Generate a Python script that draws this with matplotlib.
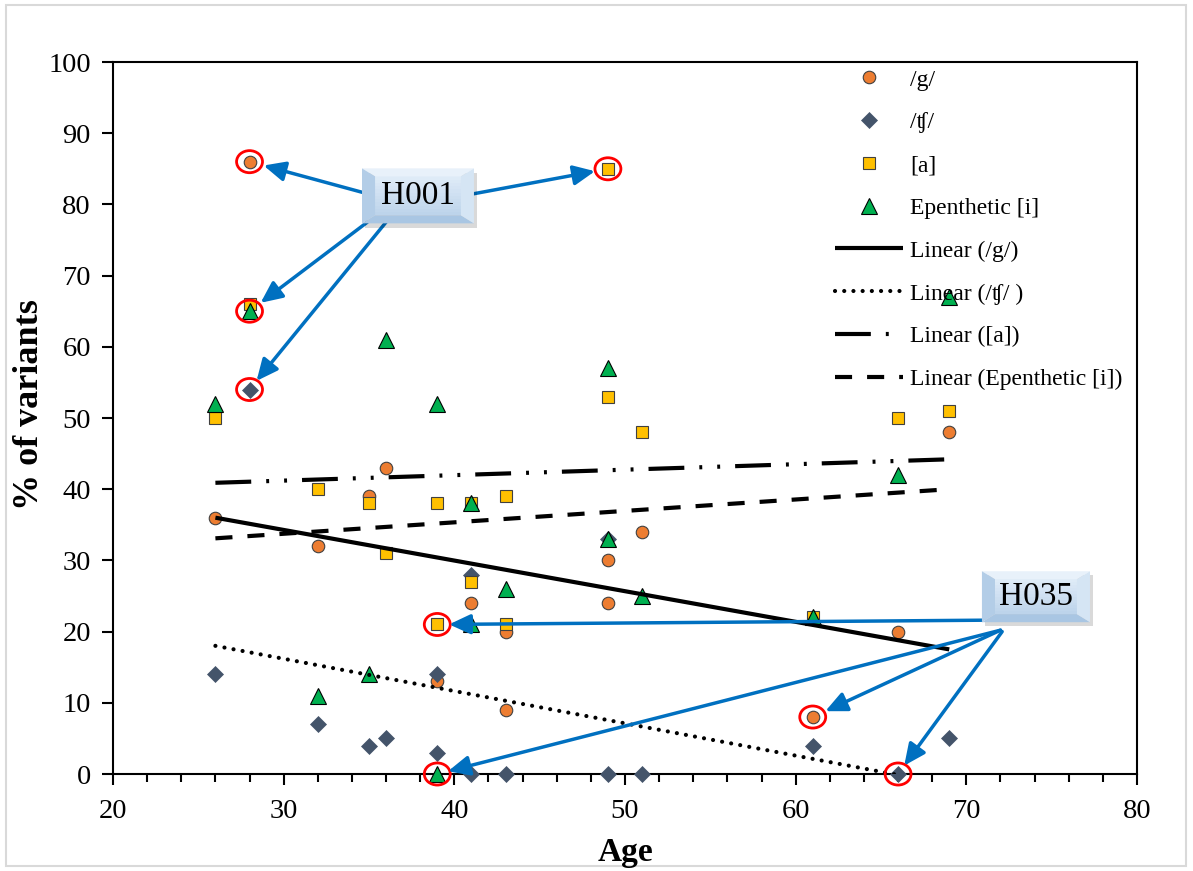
import matplotlib.pyplot as plt
import matplotlib.transforms as mtransforms
import numpy as np
from matplotlib.patches import Ellipse, Polygon, Rectangle, FancyArrowPatch
from matplotlib.ticker import MultipleLocator

plt.rcParams['font.family'] = ['Liberation Serif', 'DejaVu Serif']

# ---- speaker values (% of variants by age) ----
g_age = [26, 28, 32, 35, 36, 39, 41, 43, 43, 49, 49, 51, 61, 66, 69]
g_pct = [36, 86, 32, 39, 43, 13, 24, 20, 9, 30, 24, 34, 8, 20, 48]

tf_age = [26, 28, 32, 35, 36, 39, 39, 41, 41, 43, 49, 49, 51, 61, 66, 69]
tf_pct = [14, 54, 7, 4, 5, 14, 3, 28, 0, 0, 33, 0, 0, 4, 0, 5]

a_age = [26, 28, 32, 35, 36, 39, 39, 41, 41, 43, 43, 49, 49, 51, 61, 66, 69]
a_pct = [50, 66, 40, 38, 31, 38, 21, 38, 27, 39, 21, 85, 53, 48, 22, 50, 51]

i_age = [26, 28, 32, 35, 36, 39, 39, 41, 41, 43, 49, 49, 51, 61, 66, 69]
i_pct = [52, 65, 11, 14, 61, 52, 0, 38, 21, 26, 57, 33, 25, 22, 42, 67]

# linear trend lines (value at first and last age)
trend_age = [26, 69]
g_trend = [36.0, 17.5]
tf_trend = [18.0, -1.5]
a_trend = [40.9, 44.2]
i_trend = [33.1, 40.0]

# highlighted speakers: (series age list, series value list, index)
h001_points = [(g_age, g_pct, 1), (a_age, a_pct, 11), (i_age, i_pct, 1), (tf_age, tf_pct, 1)]
h035_points = [(a_age, a_pct, 6), (i_age, i_pct, 6), (g_age, g_pct, 12), (tf_age, tf_pct, 14)]

fig = plt.figure(figsize=(11.93, 8.71), dpi=100)
ax = fig.add_axes([113 / 1193, 97 / 871, 1024 / 1193, 712 / 871])

ax.plot(g_age, g_pct, ls='none', marker='o', ms=9, mfc='#ED7D31', mec='#404040',
        mew=0.8, clip_on=False, zorder=3, label='/g/')
ax.plot(tf_age, tf_pct, ls='none', marker='D', ms=7.8, mfc='#44546A', mec='#44546A',
        mew=0.5, clip_on=False, zorder=3.1, label='/ʧ/')
ax.plot(a_age, a_pct, ls='none', marker='s', ms=8.5, mfc='#FFC000', mec='#404040',
        mew=0.8, clip_on=False, zorder=3.2, label='[a]')
ax.plot(i_age, i_pct, ls='none', marker='^', ms=11, mfc='#00B050', mec='#000000',
        mew=0.8, clip_on=False, zorder=3.3, label='Epenthetic [i]')

ax.plot(trend_age, g_trend, color='k', lw=3, solid_capstyle='butt', zorder=4,
        label='Linear (/g/)')
ax.plot(trend_age, tf_trend, color='k', lw=3, ls=(0, (0.01, 2.2)),
        dash_capstyle='round', zorder=4, label='Linear (/ʧ/ )')
ax.plot(trend_age, a_trend, color='k', lw=3, ls=(0, (8.6, 3.6, 0.7, 3.6, 0.7, 3.6)),
        zorder=4, label='Linear ([a])')
ax.plot(trend_age, i_trend, color='k', lw=3, ls=(0, (4.1, 3.6)), zorder=4,
        label='Linear (Epenthetic [i])')

ax.set_xlim(20, 80)
ax.set_ylim(0, 100)
ax.xaxis.set_major_locator(MultipleLocator(10))
ax.xaxis.set_minor_locator(MultipleLocator(2))
ax.yaxis.set_major_locator(MultipleLocator(10))
ax.tick_params(which='major', direction='out', length=8, width=1.5, labelsize=20.5)
ax.tick_params(axis='y', pad=8)
ax.tick_params(axis='x', pad=10)
ax.tick_params(axis='x', which='minor', direction='out', length=6, width=1.5)
for sp in ax.spines.values():
    sp.set_linewidth(1.5)

fig.text(30 / 1193, 1 - 405 / 871, '% of variants', rotation=90, ha='center', va='center',
         fontsize=26, fontweight='bold')
fig.text(625 / 1193, 1 - 852 / 871, 'Age', ha='center', va='center',
         fontsize=24, fontweight='bold')

ax.legend(loc='upper left', bbox_to_anchor=(0.705, 0.99), frameon=False, fontsize=17,
          handlelength=2.9, handletextpad=0.3, labelspacing=0.9, borderpad=0,
          borderaxespad=0, numpoints=1)

# red rings round the highlighted points
for pts in (h001_points, h035_points):
    for xs, ys, k in pts:
        ax.add_patch(Ellipse((xs[k], ys[k]), width=1.52, height=3.1, fill=False,
                             ec='#FF0000', lw=2, zorder=5, clip_on=False))


def arrow(start, xs, ys, k, shrink):
    ax.add_patch(FancyArrowPatch(start, (xs[k], ys[k]),
                                 arrowstyle='-|>,head_length=0.65,head_width=0.3',
                                 mutation_scale=20, color='#0070C0', lw=2.5,
                                 shrinkA=0, shrinkB=shrink, zorder=6, clip_on=False))


h001_starts = [(34.6, 81.7), (41.15, 81.5), (34.9, 77.5), (36.2, 78.1)]
for st, (xs, ys, k), sh in zip(h001_starts, h001_points, [10.5, 9.5, 10, 8]):
    arrow(st, xs, ys, k, sh)

h035_starts = [(70.9, 21.6), (72.0, 20.2), (72.0, 20.2), (72.1, 20.0)]
for st, (xs, ys, k), sh in zip(h035_starts, h035_points, [8.5, 8, 10, 7.5]):
    arrow(st, xs, ys, k, sh)


def bevel_box(cx, cy, w, h, label):
    tr = (mtransforms.Affine2D().scale(1 / 72) + fig.dpi_scale_trans
          + mtransforms.ScaledTranslation(cx, cy, ax.transData))
    hw, hh = w / 2, h / 2
    ix, iy = 9.4, 5.8
    ax.add_patch(Rectangle((-hw + 2, -hh - 3), w, h, fc='#000000', alpha=0.15,
                           ec='none', transform=tr, zorder=7, clip_on=False))
    # face with vertical gradient
    n = 12
    top_c = np.array([0.87, 0.92, 0.97])
    bot_c = np.array([0.74, 0.83, 0.92])
    ih = (h - 2 * iy) / n
    for j in range(n):
        c = bot_c + (top_c - bot_c) * j / (n - 1)
        ax.add_patch(Rectangle((-hw + ix, -hh + iy + j * ih), w - 2 * ix, ih * 1.05,
                               fc=c, ec='none', transform=tr, zorder=7.1, clip_on=False))
    bevels = [
        ([(-hw, hh), (hw, hh), (hw - ix, hh - iy), (-hw + ix, hh - iy)], '#E8F1FA'),
        ([(-hw, -hh), (hw, -hh), (hw - ix, -hh + iy), (-hw + ix, -hh + iy)], '#A9C6E3'),
        ([(-hw, -hh), (-hw, hh), (-hw + ix, hh - iy), (-hw + ix, -hh + iy)], '#B3CDE7'),
        ([(hw, -hh), (hw, hh), (hw - ix, hh - iy), (hw - ix, -hh + iy)], '#D5E5F4'),
    ]
    for verts, col in bevels:
        ax.add_patch(Polygon(verts, closed=True, fc=col, ec='none', transform=tr,
                             zorder=7.2, clip_on=False))
    ax.text(cx, cy, label, ha='center', va='center', fontsize=24, zorder=8,
            clip_on=False)


bevel_box(37.87, 81.2, 80.6, 39.6, 'H001')
bevel_box(74.08, 24.9, 77.8, 36.7, 'H035')

fig.patches.append(Rectangle((6 / 1193, 5 / 871), 1180 / 1193, 861 / 871,
                             transform=fig.transFigure, fill=False, ec='#D9D9D9', lw=1.5))

fig.savefig('out.png', dpi=100)
